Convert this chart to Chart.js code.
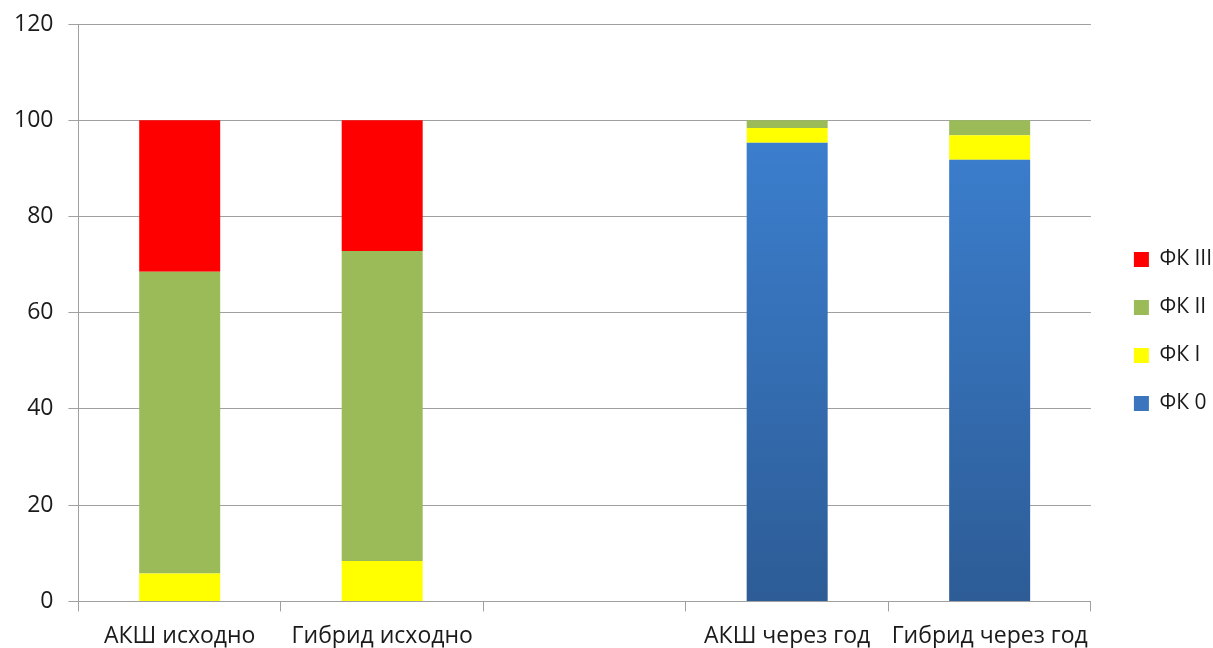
<!DOCTYPE html>
<html>
<head>
<meta charset="utf-8">
<script src="https://cdn.jsdelivr.net/npm/chart.js@4/dist/chart.umd.min.js"></script>
<style>
html,body{margin:0;padding:0;background:#fff;}
#wrap{width:1213px;height:648px;position:relative;}
</style>
</head>
<body>
<div id="wrap"><canvas id="c" width="1213" height="648"></canvas></div>
<script>
const categories = ["АКШ исходно", "Гибрид исходно", "", "АКШ через год", "Гибрид через год"];
const fk0   = [null, null, null, 95.3, 91.8];
const fk1   = [5.8, 8.4, null, 3.1, 5.1];
const fk2   = [62.7, 64.4, null, 1.6, 3.1];
const fk3   = [31.5, 27.2, null, null, null];
const seriesNames = ["ФК 0", "ФК I", "ФК II", "ФК III"];
const yTicks = [0, 20, 40, 60, 80, 100, 120];

const FONT = "'Open Sans', sans-serif";

function blueGradient(ctx) {
  const area = ctx.chart.chartArea;
  if (!area) return '#3a7bc8';
  const g = ctx.chart.ctx.createLinearGradient(0, area.top + 120, 0, area.bottom);
  g.addColorStop(0, '#3b7ecd');
  g.addColorStop(1, '#2d5c96');
  return g;
}

const legendLayout = {
  id: 'legendLayout',
  beforeInit(chart) {
    const lg = chart.legend;
    const origFit = lg.fit;
    lg.fit = function () {
      origFit.call(this);
      this.width += 7;
    };
  },
  afterLayout(chart) {
    const lg = chart.legend;
    if (!lg) return;
    lg.left += 16; lg.right += 16;
    lg.top -= 11; lg.bottom -= 11;
  }
};

const common = { barPercentage: 0.8, categoryPercentage: 0.5, borderWidth: 0 };

new Chart(document.getElementById('c'), {
  type: 'bar',
  data: {
    labels: categories,
    datasets: [
      Object.assign({ label: seriesNames[0], data: fk0, backgroundColor: blueGradient }, common),
      Object.assign({ label: seriesNames[1], data: fk1, backgroundColor: '#ffff00' }, common),
      Object.assign({ label: seriesNames[2], data: fk2, backgroundColor: '#9bbb59' }, common),
      Object.assign({ label: seriesNames[3], data: fk3, backgroundColor: '#ff0000' }, common)
    ]
  },
  options: {
    responsive: false,
    animation: false,
    layout: { padding: { top: 24, right: 0, bottom: -13, left: -1 } },
    plugins: {
      tooltip: { enabled: false },
      legend: {
        position: 'right',
        reverse: true,
        labels: {
          boxWidth: 15, boxHeight: 15, padding: 27,
          color: '#1a1a1a',
          font: { family: FONT, size: 21 },
          generateLabels(chart) {
            const items = Chart.defaults.plugins.legend.labels.generateLabels(chart);
            items.forEach(it => {
              if (it.datasetIndex === 0) it.fillStyle = '#3a75bd';
              it.lineWidth = 0;
              it.strokeStyle = 'rgba(0,0,0,0)';
            });
            return items;
          }
        }
      }
    },
    scales: {
      x: {
        stacked: true,
        offset: true,
        grid: { offset: true, drawOnChartArea: false, drawTicks: true, tickLength: 10, color: '#a0a0a0', lineWidth: 1 },
        border: { display: true, color: '#a0a0a0' },
        ticks: { color: '#1a1a1a', font: { family: FONT, size: 23 }, padding: 11, maxRotation: 0, autoSkip: false }
      },
      y: {
        stacked: true,
        min: 0, max: 120,
        afterBuildTicks(axis) { axis.ticks = yTicks.map(v => ({ value: v })); },
        afterFit(scale) { scale.paddingTop = 0; scale.paddingBottom = 0; },
        grid: { color: '#a0a0a0', tickLength: 10, lineWidth: 1 },
        border: { display: true, color: '#a0a0a0' },
        ticks: { color: '#1a1a1a', font: { family: FONT, size: 23 }, padding: 15 }
      }
    }
  },
  plugins: [legendLayout]
});
</script>
</body>
</html>
